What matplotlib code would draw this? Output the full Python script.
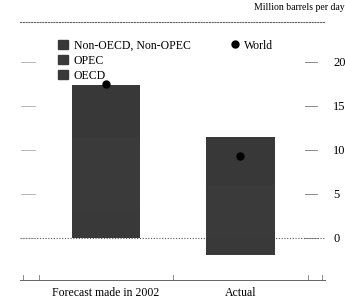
import matplotlib
matplotlib.use("Agg")
import matplotlib.pyplot as plt
import numpy as np
from matplotlib.patches import Patch
from matplotlib.lines import Line2D

# --- data (million barrels per day) ---
categories = ["Forecast made in 2002", "Actual"]
non_oecd_non_opec = [6.0, 5.4]
opec = [8.5, 6.0]
oecd = [2.9, -2.0]
world = [17.5, 9.3]
yticks = [0, 5, 10, 15, 20]

plt.rcParams["font.family"] = ["Liberation Serif", "DejaVu Serif"]

fig = plt.figure(figsize=(3.45, 3.0), dpi=100)
ax = fig.add_axes([20/345, 1 - 280/300, 305/345, 258/300])

x = np.arange(len(categories))
w = 0.51
# the scan prints all three series in the same dark stipple
c_nn, c_opec, c_oecd = "#383838", "#3a3a3a", "#393939"

# stack positives upward, negatives downward
pos_base = np.zeros(len(x))
neg_base = np.zeros(len(x))
for vals, col in [(oecd, c_oecd), (opec, c_opec), (non_oecd_non_opec, c_nn)]:
    vals = np.array(vals)
    bottoms = np.where(vals >= 0, pos_base, neg_base)
    ax.bar(x, vals, w, bottom=bottoms, color=col, edgecolor="none", zorder=2)
    pos_base += np.where(vals >= 0, vals, 0)
    neg_base += np.where(vals < 0, vals, 0)

ax.plot(x, world, "o", color="black", ms=5, zorder=3)

ax.set_xlim(-0.64, 1.63)
ax.set_ylim(-4.8, 24.5)

# zero line and top rule, dotted
ax.axhline(0, color="#555555", lw=0.8, ls=(0, (1, 1.5)), zorder=1)
for s in ["left", "right"]:
    ax.spines[s].set_visible(False)
ax.spines["top"].set_linestyle((0, (1, 1.5)))
ax.spines["top"].set_color("#666666")
ax.spines["top"].set_linewidth(0.8)
ax.spines["bottom"].set_color("#666666")
ax.spines["bottom"].set_linewidth(0.7)

# right-hand labels with short tick dashes on both sides
ax.yaxis.tick_right()
ax.set_yticks(yticks)
ax.set_yticklabels([str(v) for v in yticks], fontsize=9)
ax.tick_params(axis="y", length=0, pad=6)
for v in yticks:
    ax.plot([1.48, 1.57], [v, v], color="#777777", lw=0.6, zorder=1)
    ax.plot([-0.63, -0.53], [v, v], color="#999999", lw=0.5, zorder=1)

ax.set_xticks(x)
ax.set_xticklabels(categories, fontsize=8.5)
ax.tick_params(axis="x", length=0, pad=5)
for t in [-0.62, -0.5, 0.5, 1.5, 1.61]:
    ax.plot([t, t], [-4.8, -4.2], color="#777777", lw=0.6, clip_on=False)

fig.text(1.0, 1 - 8/300, "Million barrels per day", ha="right", va="center", fontsize=7)

leg1 = ax.legend(
    handles=[Patch(color=c_nn, label="Non-OECD, Non-OPEC"),
             Patch(color=c_opec, label="OPEC"),
             Patch(color=c_oecd, label="OECD")],
    loc="upper left", bbox_to_anchor=(0.11, 0.95), frameon=False, fontsize=8.5,
    handlelength=0.8, handleheight=0.8, handletextpad=0.5, labelspacing=0.25,
    borderaxespad=0)
ax.add_artist(leg1)
ax.legend(handles=[Line2D([], [], marker="o", ls="none", color="black", ms=5, label="World")],
          loc="upper left", bbox_to_anchor=(0.67, 0.95), frameon=False, fontsize=8.5,
          handletextpad=0.3, borderaxespad=0, handlelength=1.0)

fig.savefig("out.png", dpi=100)
